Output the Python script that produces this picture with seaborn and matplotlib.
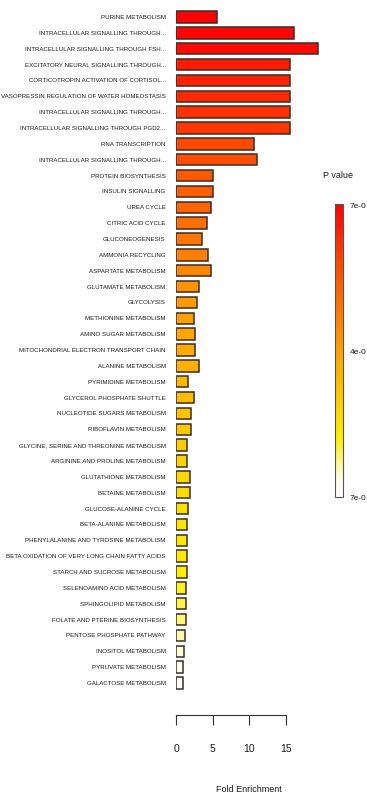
import numpy as np
import pandas as pd
import matplotlib
matplotlib.use("Agg")
import matplotlib.pyplot as plt
import seaborn as sns
from matplotlib.colors import LinearSegmentedColormap

# Dados (de cima para baixo)
pathways = [
    "PURINE METABOLISM",
    "INTRACELLULAR SIGNALLING THROUGH...",
    "INTRACELLULAR SIGNALLING THROUGH FSH...",
    "EXCITATORY NEURAL SIGNALLING THROUGH...",
    "CORTICOTROPIN ACTIVATION OF CORTISOL...",
    "VASOPRESSIN REGULATION OF WATER HOMEOSTASIS",
    "INTRACELLULAR SIGNALLING THROUGH...",
    "INTRACELLULAR SIGNALLING THROUGH PGD2...",
    "RNA TRANSCRIPTION",
    "INTRACELLULAR SIGNALLING THROUGH...",
    "PROTEIN BIOSYNTHESIS",
    "INSULIN SIGNALLING",
    "UREA CYCLE",
    "CITRIC ACID CYCLE",
    "GLUCONEOGENESIS",
    "AMMONIA RECYCLING",
    "ASPARTATE METABOLISM",
    "GLUTAMATE METABOLISM",
    "GLYCOLYSIS",
    "METHIONINE METABOLISM",
    "AMINO SUGAR METABOLISM",
    "MITOCHONDRIAL ELECTRON TRANSPORT CHAIN",
    "ALANINE METABOLISM",
    "PYRIMIDINE METABOLISM",
    "GLYCEROL PHOSPHATE SHUTTLE",
    "NUCLEOTIDE SUGARS METABOLISM",
    "RIBOFLAVIN METABOLISM",
    "GLYCINE, SERINE AND THREONINE METABOLISM",
    "ARGININE AND PROLINE METABOLISM",
    "GLUTATHIONE METABOLISM",
    "BETAINE METABOLISM",
    "GLUCOSE-ALANINE CYCLE",
    "BETA-ALANINE METABOLISM",
    "PHENYLALANINE AND TYROSINE METABOLISM",
    "BETA OXIDATION OF VERY LONG CHAIN FATTY ACIDS",
    "STARCH AND SUCROSE METABOLISM",
    "SELENOAMINO ACID METABOLISM",
    "SPHINGOLIPID METABOLISM",
    "FOLATE AND PTERINE BIOSYNTHESIS",
    "PENTOSE PHOSPHATE PATHWAY",
    "INOSITOL METABOLISM",
    "PYRUVATE METABOLISM",
    "GALACTOSE METABOLISM",
]

fold_enrichment = [
    5.6, 16.1, 19.4, 15.5, 15.5, 15.5, 15.5, 15.5, 10.7, 11.0,
    5.0, 5.0, 4.8, 4.2, 3.6, 4.3, 4.8, 3.2, 2.8, 2.5,
    2.6, 2.6, 3.2, 1.6, 2.5, 2.1, 2.1, 1.5, 1.5, 1.9,
    1.9, 1.6, 1.5, 1.5, 1.5, 1.5, 1.4, 1.3, 1.3, 1.2,
    1.1, 1.0, 0.9,
]

# posicao da cor de cada barra na escala de P value (0 = base, 1 = topo)
p_level = [
    1.00, 0.98, 0.97, 0.92, 0.90, 0.88, 0.86, 0.84, 0.80, 0.78,
    0.74, 0.72, 0.70, 0.67, 0.64, 0.61, 0.58, 0.55, 0.52, 0.50,
    0.48, 0.46, 0.44, 0.41, 0.39, 0.37, 0.35, 0.33, 0.31, 0.29,
    0.27, 0.25, 0.24, 0.23, 0.22, 0.20, 0.18, 0.16, 0.13, 0.10,
    0.08, 0.05, 0.00,
]

cbar_labels = ["7e-0", "4e-0", "7e-0"]

sns.set_style("white")
plt.rcParams["font.family"] = ["Liberation Sans", "DejaVu Sans"]

cmap = LinearSegmentedColormap.from_list(
    "pval",
    [(0.0, "#ffffff"), (0.07, "#fffbe0"), (0.2, "#ffee00"),
     (0.5, "#ffa000"), (0.8, "#ff4800"), (1.0, "#ff0000")],
)

df = pd.DataFrame({
    "chave": [f"r{i:02d}" for i in range(len(pathways))],
    "pathway": pathways,
    "fold": fold_enrichment,
    "nivel": p_level,
})
paleta = dict(zip(df["chave"], [cmap(v) for v in df["nivel"]]))

W, H = 367, 798
fig = plt.figure(figsize=(W / 100, H / 100), dpi=100)
ax = fig.add_axes([176 / W, (H - 691) / H, 146.6 / W, 682 / H])

sns.barplot(data=df, x="fold", y="chave", hue="chave", palette=paleta,
            orient="h", legend=False, width=0.72, edgecolor="#3a2e26",
            linewidth=1.1, saturation=1, ax=ax)

ax.set_xlim(0, 20)
ax.set_yticks(range(len(pathways)))
ax.set_yticklabels(pathways, fontsize=4.4, color="#1c1c1c")
ax.tick_params(axis="y", length=0, pad=7.4)
ax.set_ylabel("")

for s in ["top", "right", "left"]:
    ax.spines[s].set_visible(False)
ax.spines["bottom"].set_position(("outward", 17.3))
ax.spines["bottom"].set_bounds(0, 15)
ax.spines["bottom"].set_color("#333333")
ax.spines["bottom"].set_linewidth(0.8)
ax.set_xticks([0, 5, 10, 15])
ax.tick_params(axis="x", bottom=True, length=7.2, width=0.8, color="#333333",
               pad=14, labelsize=7.5, labelcolor="#1c1c1c")
ax.set_xlabel("Fold Enrichment", fontsize=6.5, labelpad=22, color="#1c1c1c")

# barra de cores do P value
cax = fig.add_axes([335 / W, (H - 497) / H, 7.5 / W, 293 / H])
cb = fig.colorbar(plt.cm.ScalarMappable(cmap=cmap), cax=cax)
cb.set_ticks([])
cb.outline.set_edgecolor("#555555")
cb.outline.set_linewidth(0.8)
fig.text(338 / W, 1 - 176 / H, "P value", fontsize=6.5, ha="center",
         va="center", color="#1c1c1c")
for y, t in zip([207, 352, 499], cbar_labels):
    fig.text(349.5 / W, 1 - y / H, t, fontsize=6, ha="left", va="center",
             color="#1c1c1c")

fig.savefig("out.png", dpi=100)
